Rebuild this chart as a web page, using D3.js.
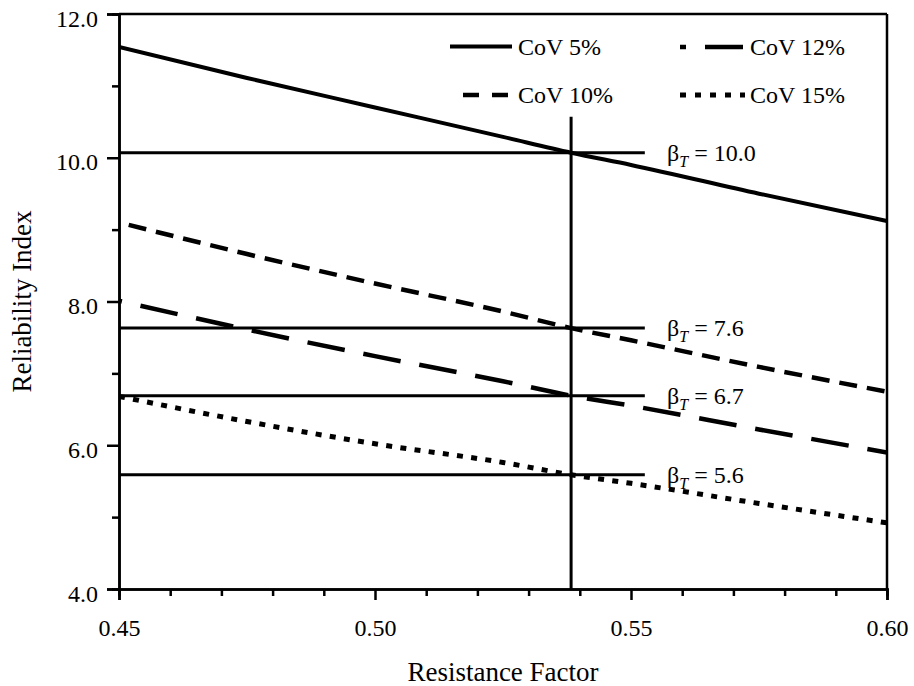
<!DOCTYPE html>
<html>
<head>
<meta charset="utf-8">
<script src="https://cdn.jsdelivr.net/npm/d3@7"></script>
<style>
  html, body { margin: 0; padding: 0; background: #fff; }
  svg { display: block; }
  text { font-family: "Liberation Serif", "Times New Roman", serif; fill: #000; }
</style>
</head>
<body>
<svg id="chart" width="914" height="686"></svg>
<script>
// ---- data ----
const resistanceFactor = [0.45, 0.475, 0.50, 0.525, 0.5383, 0.55, 0.575, 0.60];
const cov5  = [11.54, 11.11, 10.70, 10.29, 10.07, 9.90, 9.50, 9.12];
const cov10 = [9.10, 8.66, 8.25, 7.86, 7.63, 7.46, 7.09, 6.745];
const cov12 = [8.01, 7.61, 7.24, 6.89, 6.69, 6.55, 6.22, 5.90];
const cov15 = [6.68, 6.33, 6.02, 5.76, 5.59, 5.47, 5.19, 4.92];
const seriesNames = ["CoV 5%", "CoV 10%", "CoV 12%", "CoV 15%"];
const targetValues = [10.07, 7.63, 6.69, 5.59];
const targetLabels = ["10.0", "7.6", "6.7", "5.6"];
const targetLineEnd = 0.5527;
const selectedPhi = 0.5383;
const selectedTop = 10.57;
const xMajorTicks = [0.45, 0.50, 0.55, 0.60];
const xMinorTicks = [0.46, 0.47, 0.48, 0.49, 0.51, 0.52, 0.53, 0.54, 0.56, 0.57, 0.58, 0.59];
const yMajorTicks = [4, 6, 8, 10, 12];
const yMinorTicks = [5, 7, 9, 11];

(function () {
// ---- layout ----
const svg = d3.select("#chart");
const pL = 119, pR = 887, pT = 14, pB = 589;
const x = d3.scaleLinear().domain([0.45, 0.60]).range([pL, pR]);
const y = d3.scaleLinear().domain([4, 12]).range([pB, pT]);

// series styles
const styles = [
  { width: 4,   dash: null,        offset: 0 },
  { width: 4.5, dash: "18,10",     offset: 18 },
  { width: 4.5, dash: "38,19",     offset: 35 },
  { width: 5,   dash: "6,8.3",     offset: 0 }
];
const allSeries = [cov5, cov10, cov12, cov15];

// clip
svg.append("defs").append("clipPath").attr("id", "plotclip")
  .append("rect").attr("x", pL).attr("y", pT).attr("width", pR - pL).attr("height", pB - pT);

const plot = svg.append("g").attr("clip-path", "url(#plotclip)");

// target horizontal lines
plot.selectAll("line.target").data(targetValues).join("line")
  .attr("class", "target")
  .attr("x1", x(0.45)).attr("x2", x(targetLineEnd))
  .attr("y1", d => y(d)).attr("y2", d => y(d))
  .attr("stroke", "#000").attr("stroke-width", 3);

// vertical line
plot.append("line")
  .attr("x1", x(selectedPhi)).attr("x2", x(selectedPhi))
  .attr("y1", y(selectedTop)).attr("y2", y(4))
  .attr("stroke", "#000").attr("stroke-width", 3);

// series
const line = d3.line().x((d, i) => x(resistanceFactor[i])).y(d => y(d)).curve(d3.curveMonotoneX);
allSeries.forEach((s, k) => {
  const p = plot.append("path")
    .attr("d", line(s))
    .attr("fill", "none")
    .attr("stroke", "#000")
    .attr("stroke-width", styles[k].width);
  if (styles[k].dash) p.attr("stroke-dasharray", styles[k].dash).attr("stroke-dashoffset", styles[k].offset);
});

// target labels
const tl = svg.selectAll("text.tlabel").data(targetValues).join("text")
  .attr("class", "tlabel")
  .attr("x", 667)
  .attr("y", d => y(d) + 8)
  .attr("font-size", 24);
tl.append("tspan").text("β");
tl.append("tspan").attr("font-size", 16).attr("font-style", "italic").attr("dy", 6).text("T");
tl.append("tspan").attr("dy", -6).text((d, i) => " = " + targetLabels[i]);

// axes
const axisColor = "#000";
const gx = svg.append("g").attr("transform", `translate(0,${pB})`)
  .call(d3.axisBottom(x).tickValues(xMajorTicks).tickSize(11).tickPadding(19).tickFormat(d3.format(".2f")));
const gxm = svg.append("g").attr("transform", `translate(0,${pB})`)
  .call(d3.axisBottom(x).tickValues(xMinorTicks).tickSize(7).tickFormat(""));
const gy = svg.append("g").attr("transform", `translate(${pL},0)`)
  .call(d3.axisLeft(y).tickValues(yMajorTicks).tickSize(12).tickPadding(9).tickFormat(d3.format(".1f")));
const gym = svg.append("g").attr("transform", `translate(${pL},0)`)
  .call(d3.axisLeft(y).tickValues(yMinorTicks).tickSize(7).tickFormat(""));
[gx, gxm, gy, gym].forEach(g => {
  g.selectAll("path").attr("stroke", axisColor).attr("stroke-width", 2.5);
  g.selectAll("line").attr("stroke", axisColor).attr("stroke-width", 2.5);
  g.selectAll("text").attr("font-size", 24).attr("font-family", "Liberation Serif").attr("fill", "#000");
});
gx.selectAll("text").attr("dy", "0.71em");
gy.selectAll("text").attr("dy", "0.5em");

// top and right borders
svg.append("line").attr("x1", pL).attr("x2", pR).attr("y1", pT).attr("y2", pT)
  .attr("stroke", "#000").attr("stroke-width", 2.5);
svg.append("line").attr("x1", pR).attr("x2", pR).attr("y1", pT).attr("y2", pB)
  .attr("stroke", "#000").attr("stroke-width", 2.5);

// axis titles
svg.append("text").attr("x", (pL + pR) / 2).attr("y", 681)
  .attr("text-anchor", "middle").attr("font-size", 27).text("Resistance Factor");
svg.append("text").attr("transform", `translate(31,${(pT + pB) / 2}) rotate(-90)`)
  .attr("text-anchor", "middle").attr("font-size", 27).text("Reliability Index");

// legend
const legendItems = [
  { x1: 450, x2: 512, y: 46.5, tx: 518 },
  { x1: 450, x2: 512, y: 95,   tx: 518 },
  { x1: 680, x2: 743, y: 47,   tx: 750 },
  { x1: 680, x2: 745, y: 95,   tx: 750 }
];
const legendDash = [null, "16,13", "38,19", "6,9"];
const legendOffset = [0, 16, 32, 0];
const lg = svg.append("g");
legendItems.forEach((it, k) => {
  const l = lg.append("line").attr("x1", it.x1).attr("x2", it.x2).attr("y1", it.y).attr("y2", it.y)
    .attr("stroke", "#000").attr("stroke-width", styles[k].width);
  if (legendDash[k]) l.attr("stroke-dasharray", legendDash[k]).attr("stroke-dashoffset", legendOffset[k]);
  lg.append("text").attr("x", it.tx).attr("y", it.y + 8).attr("font-size", 24).text(seriesNames[k]);
});
})();
</script>
</body>
</html>
